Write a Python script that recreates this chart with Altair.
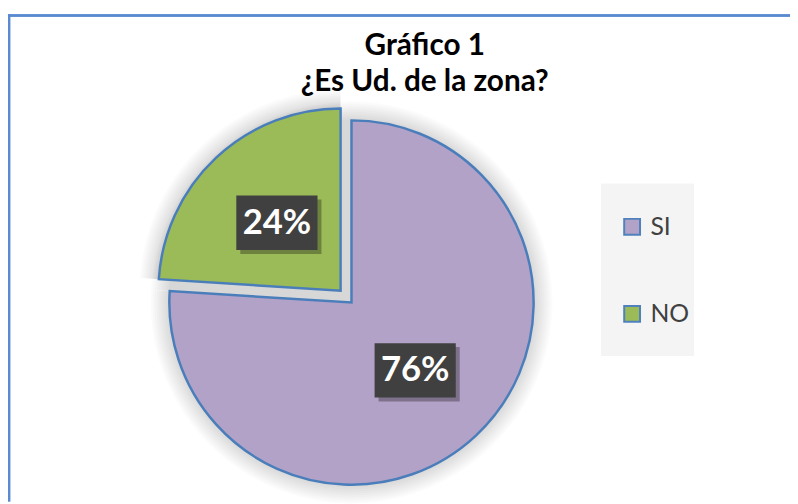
import math
import altair as alt
import pandas as pd

# ---- data ----
categories = ["SI", "NO"]
values = [76, 24]
labels = ["76%", "24%"]
colors = ["#B3A2C7", "#9BBB59"]
title_lines = ["Gráfico 1", "¿Es Ud. de la zona?"]

df = pd.DataFrame({"cat": categories, "value": values, "label": labels})
df_title = pd.DataFrame({"t": title_lines, "i": list(range(len(title_lines)))})

# ---- layout (chart pixel coords; page = chart + 8) ----
W, H = 790, 496
R = 184
CX_SI, CY_SI = 347, 295      # main pie centre
CX_NO, CY_NO = 336, 283      # exploded slice centre
LBL_R = 94
BOX_W, BOX_H = 82, 55
FONT = "Lato"
STROKE = "#4A7EBB"

cx_expr = f"datum.cat == 'SI' ? {CX_SI} : {CX_NO}"
cy_expr = f"datum.cat == 'SI' ? {CY_SI} : {CY_NO}"

base = (
    alt.Chart(df)
    .transform_joinaggregate(total="sum(value)")
    .transform_window(cum="sum(value)", frame=[None, 0])
    .transform_calculate(
        a0=f"(datum.cum - datum.value) / datum.total * {2*math.pi}",
        a1=f"datum.cum / datum.total * {2*math.pi}",
    )
    .transform_calculate(mid="(datum.a0 + datum.a1) / 2")
    .transform_calculate(cx=cx_expr, cy=cy_expr)
    .transform_calculate(
        px=f"datum.cx + {LBL_R} * sin(datum.mid)",
        py=f"datum.cy - {LBL_R} * cos(datum.mid)",
    )
)

theta = alt.Theta("a0:Q", scale=None)
theta2 = alt.Theta2("a1:Q")

color = alt.Color(
    "cat:N",
    scale=alt.Scale(domain=categories, range=colors),
    sort=categories,
    legend=alt.Legend(
        title=None,
        orient="none",
        legendX=618,
        legendY=206,
        symbolType="square",
        symbolSize=256,
        symbolStrokeColor="#4F81BD",
        symbolStrokeWidth=2,
        symbolOpacity=1,
        labelFont=FONT,
        labelFontSize=25,
        labelColor="#404040",
        labelOffset=6,
        rowPadding=62,
        padding=0,
    ),
)

layers = []

# frame
layers.append(alt.Chart(df).mark_rule(color="#5A8BD0", strokeWidth=2.5).encode(
    x=alt.value(1), y=alt.value(4), y2=alt.value(H)))
layers.append(alt.Chart(df).mark_rule(color="#5A8BD0", strokeWidth=2.5).encode(
    x=alt.value(0), x2=alt.value(W), y=alt.value(5)))

# legend background
layers.append(alt.Chart(df).mark_rect(color="#F4F4F4").encode(
    x=alt.value(599), x2=alt.value(693), y=alt.value(175), y2=alt.value(349)))

# soft shadows
for k in range(1, 21, 2):
    layers.append(base.mark_arc(radius=R + k, color="black", opacity=0.017).encode(
        theta=theta, theta2=theta2, x=alt.value(CX_SI), y=alt.value(CY_SI)))
    layers.append(base.transform_filter("datum.cat == 'NO'").mark_arc(
        radius=R + k, color="black", opacity=0.017).encode(
        theta=theta, theta2=theta2, x=alt.value(CX_NO), y=alt.value(CY_NO)))

# slices
layers.append(base.transform_filter("datum.cat == 'SI'").mark_arc(
    radius=R, stroke=STROKE, strokeWidth=2.5, opacity=1).encode(
    theta=theta, theta2=theta2, color=color, x=alt.value(CX_SI), y=alt.value(CY_SI)))
layers.append(base.transform_filter("datum.cat == 'NO'").mark_arc(
    radius=R, stroke=STROKE, strokeWidth=2.5, opacity=1).encode(
    theta=theta, theta2=theta2, color=color, x=alt.value(CX_NO), y=alt.value(CY_NO)))

# label boxes
box = base.transform_calculate(
    bx0=f"datum.px - {BOX_W/2}", bx1=f"datum.px + {BOX_W/2}",
    by0=f"datum.py - {BOX_H/2}", by1=f"datum.py + {BOX_H/2}",
    sx0=f"datum.px - {BOX_W/2} + 4", sx1=f"datum.px + {BOX_W/2} + 4",
    sy0=f"datum.py - {BOX_H/2} + 4", sy1=f"datum.py + {BOX_H/2} + 4",
)
layers.append(box.mark_rect(color="black", opacity=0.3).encode(
    x=alt.X("sx0:Q", scale=None), x2="sx1:Q",
    y=alt.Y("sy0:Q", scale=None), y2="sy1:Q"))
layers.append(box.mark_rect(color="#404040").encode(
    x=alt.X("bx0:Q", scale=None), x2="bx1:Q",
    y=alt.Y("by0:Q", scale=None), y2="by1:Q"))
layers.append(base.mark_text(font=FONT, fontWeight="bold", fontSize=35,
                             color="white", baseline="middle", align="center").encode(
    x=alt.X("px:Q", scale=None), y=alt.Y("py:Q", scale=None), text="label:N"))

# title
layers.append(alt.Chart(df_title).transform_calculate(ty="36 + 36 * datum.i").mark_text(
    font=FONT, fontWeight="bold", fontSize=30, color="black",
    baseline="middle", align="center").encode(
    x=alt.value(421), y=alt.Y("ty:Q", scale=None), text="t:N"))

chart = alt.layer(*layers).properties(
    width=W, height=H, padding=0, autosize="none", background="white"
).configure_view(stroke=None)

chart.save("out.html", embed_options={"renderer": "svg", "actions": False})
